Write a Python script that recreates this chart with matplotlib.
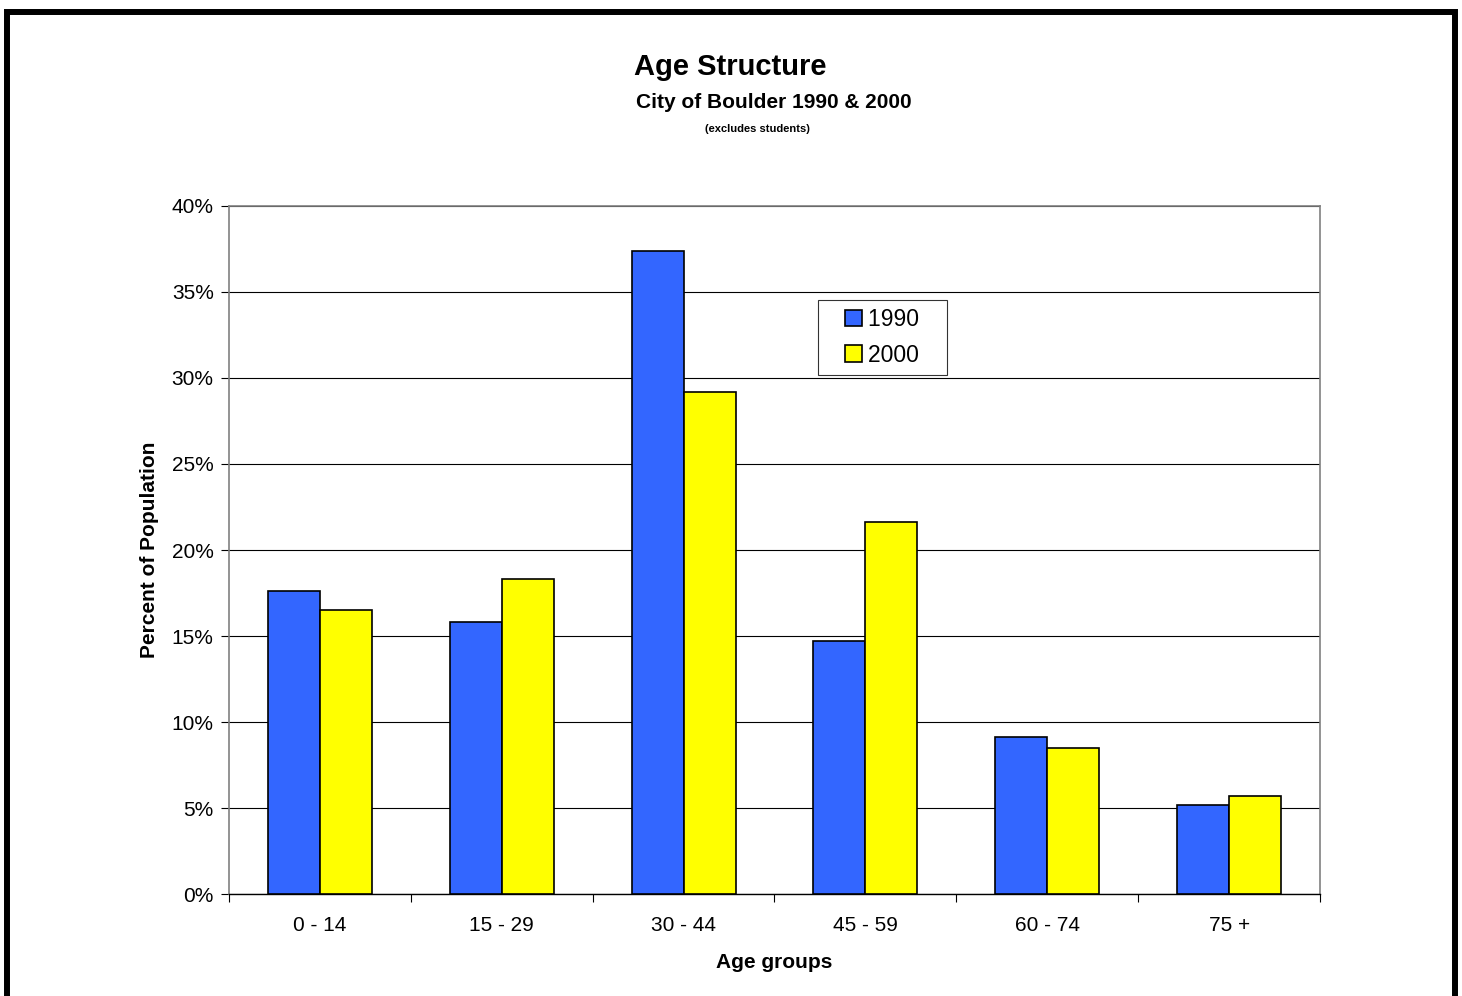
import numpy as np
import matplotlib
matplotlib.use("Agg")
import matplotlib.pyplot as plt
from matplotlib.patches import Rectangle
from matplotlib.legend_handler import HandlerPatch
from matplotlib.ticker import FixedLocator, PercentFormatter

plt.rcParams["font.family"] = ["Liberation Sans", "DejaVu Sans"]

age_groups = ["0 - 14", "15 - 29", "30 - 44", "45 - 59", "60 - 74", "75 +"]
pct_1990 = [17.6, 15.8, 37.4, 14.7, 9.1, 5.2]
pct_2000 = [16.5, 18.3, 29.2, 21.6, 8.5, 5.7]
series = [("1990", pct_1990, "#3366FF"), ("2000", pct_2000, "#FFFF00")]

W, H = 1462, 996
fig = plt.figure(figsize=(W / 100, H / 100), dpi=100)

# outer black frame (bottom edge runs off the image)
fig.patches.append(Rectangle((7 / W, -0.05), (1455 - 7) / W, (H - 12) / H + 0.05,
                             transform=fig.transFigure, fill=False, ec="black", lw=4.3))

ax = fig.add_axes([229 / W, 1 - 894 / H, (1320 - 229) / W, (894 - 206) / H])

x = np.arange(len(age_groups))
bw = 0.286
bars = []
for k, (lab, vals, col) in enumerate(series):
    bars.append(ax.bar(x + (k - 0.5) * bw, vals, width=bw, color=col, edgecolor="black",
                       linewidth=1.2, label=lab, zorder=3))

ax.set_xlim(-0.5, len(age_groups) - 0.5)
ax.set_ylim(0, 40)
ax.set_yticks(np.arange(0, 41, 5))
ax.yaxis.set_major_formatter(PercentFormatter(decimals=0))
ax.grid(axis="y", color="black", lw=0.8, zorder=0)

# category boundaries as major ticks, labels on minor ticks
ax.xaxis.set_major_locator(FixedLocator(np.arange(-0.5, len(age_groups), 1.0)))
ax.xaxis.set_major_formatter(plt.NullFormatter())
ax.xaxis.set_minor_locator(FixedLocator(x))
ax.set_xticklabels(age_groups, minor=True)
ax.tick_params(axis="x", which="major", length=6, width=0.8, direction="out")
ax.tick_params(axis="x", which="minor", length=0, pad=16, labelsize=15)
ax.tick_params(axis="y", length=6, width=0.8, pad=5, labelsize=15)

for s in ("top", "right", "left"):
    ax.spines[s].set_color("#808080")
    ax.spines[s].set_linewidth(1.2)
ax.spines["bottom"].set_color("black")
ax.spines["bottom"].set_linewidth(1.0)

ax.set_ylabel("Percent of Population", fontsize=15, fontweight="bold")
ax.yaxis.set_label_coords(-0.064, 0.5)
ax.set_xlabel("Age groups", fontsize=15, fontweight="bold")
ax.xaxis.set_label_coords(0.5, -0.086)


# legend swatch: small square pushed to the right of the handle area
def square_right(legend, orig_handle, xdescent, ydescent, width, height, fontsize):
    return Rectangle((-xdescent + width - height, -ydescent), height, height)


handles = [b.patches[0] for b in bars]
labels = [s[0] + "   " for s in series]
leg = ax.legend(handles, labels, loc="upper left",
                bbox_to_anchor=((818 - 229) / 1091, (894 - 300) / 688),
                fontsize=16.5, frameon=True, fancybox=False, edgecolor="black",
                handlelength=1.55, handleheight=0.75, handletextpad=0.3,
                borderpad=0.35, labelspacing=0.55, borderaxespad=0,
                handler_map={Rectangle: HandlerPatch(patch_func=square_right)})
leg.get_frame().set_linewidth(0.8)

fig.text(0.5 * (633 + 827) / W, 1 - 67 / H, "Age Structure", ha="center", va="center",
         fontsize=21, fontweight="bold")
fig.text(0.5 * (637 + 911) / W, 1 - 102 / H, "City of Boulder 1990 & 2000", ha="center",
         va="center", fontsize=15, fontweight="bold")
fig.text(0.5 * (705 + 810) / W, 1 - 129 / H, "(excludes students)", ha="center",
         va="center", fontsize=8, fontweight="bold")

fig.savefig("out.png", dpi=100)
